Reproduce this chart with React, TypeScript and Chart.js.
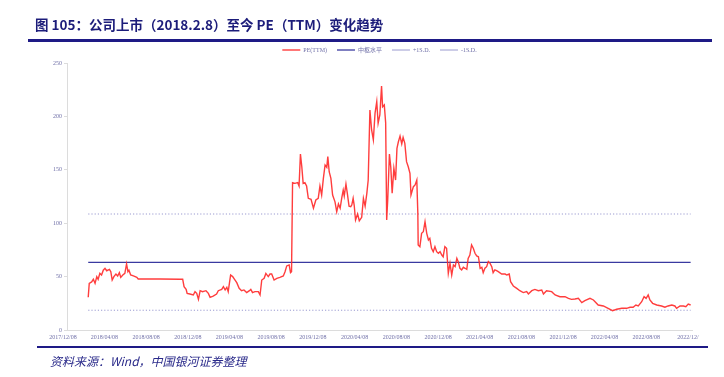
import React, { useEffect, useRef } from "react";
import { Chart, registerables } from "chart.js";

Chart.register(...registerables);

// x positions: days since 2017/12/08
const dayOffsets = [
  62, 65, 72, 77, 82, 87, 91, 96, 101, 106, 111, 116, 124, 128, 132, 137, 143, 148, 153, 157,
  163, 169, 174, 178, 181, 186, 194, 204, 208, 272, 330, 338, 342, 348, 351, 359, 369, 374, 379, 384,
  389, 396, 406, 413, 418, 427, 437, 442, 452, 457, 462, 467, 471, 478, 484, 491, 496, 503, 510, 517,
  525, 533, 537, 542, 549, 559, 564, 569, 576, 581, 588, 593, 598, 605, 613, 622, 632, 637, 642, 649,
  653, 656, 659, 666, 674, 678, 682, 686, 690, 695, 700, 705, 713, 720, 727, 734, 739, 744, 749, 754,
  759, 762, 766, 771, 776, 783, 788, 793, 798, 803, 807, 810, 815, 819, 824, 829, 832, 836, 839, 843,
  849, 854, 861, 866, 871, 876, 880, 885, 890, 895, 900, 905, 909, 914, 919, 922, 927, 931, 934, 937,
  942, 946, 950, 955, 960, 964, 968, 973, 978, 982, 987, 992, 997, 1002, 1005, 1012, 1017, 1022, 1025, 1026,
  1031, 1036, 1041, 1046, 1051, 1056, 1060, 1065, 1070, 1075, 1080, 1085, 1090, 1095, 1099, 1104, 1109, 1114, 1119, 1124,
  1129, 1134, 1139, 1143, 1148, 1153, 1158, 1163, 1168, 1172, 1177, 1182, 1187, 1192, 1197, 1202, 1207, 1212, 1216, 1221,
  1226, 1231, 1236, 1241, 1245, 1250, 1255, 1260, 1270, 1280, 1285, 1292, 1296, 1304, 1314, 1323, 1333, 1343, 1348, 1358,
  1367, 1377, 1387, 1392, 1401, 1416, 1426, 1440, 1455, 1465, 1474, 1484, 1494, 1504, 1513, 1528, 1538, 1552, 1567, 1581,
  1594, 1606, 1621, 1635, 1645, 1654, 1662, 1669, 1679, 1686, 1692, 1698, 1703, 1711, 1723, 1737, 1747, 1756, 1767, 1776,
  1781, 1791, 1801, 1808, 1815, 1822,
];

const peTTM = [
  30.6, 43.7, 45, 47.5, 43.7, 50, 47.5, 53, 51.5, 56, 57.8, 55.5, 56.8, 54.6, 46.8, 50, 52.4, 50.6, 53.7, 49.3,
  51.5, 53, 61.8, 54.6, 56, 51.5, 50.6, 49.3, 47.8, 47.8, 47.5, 47.5, 40.6, 38, 34.3, 33.7, 32.8, 35.9, 34.3, 28.7,
  36.8, 35.9, 36.8, 34.3, 30.6, 31.8, 33.7, 36.8, 38, 40.6, 37.5, 40, 35.9, 51.5, 50, 46.8, 44.3, 39, 36.8, 37.5,
  35, 36.8, 38, 35, 35.9, 35.9, 32.8, 46.8, 48.4, 53, 50, 52.4, 52.4, 46.8, 48.4, 49.3, 50.6, 54.6, 60, 60.9,
  53.7, 54.6, 138, 137.3, 138, 134.8, 164.8, 152.9, 137.3, 138, 134.8, 123.3, 122.3, 114, 121.7, 123.3, 134.8, 126.4, 142, 154.5,
  152.3, 162.3, 148.2, 142, 126.4, 120, 110.8, 118, 114, 124.2, 131, 125.5, 136.7, 128, 116, 115.5, 117, 123.3, 117, 103,
  108.6, 102.3, 105.5, 123.3, 116, 128, 140.4, 206, 187.3, 178, 203, 213.8, 193.5, 201.3, 228.5, 209, 210.7, 194, 103, 121.7,
  164.8, 152.3, 128, 151.4, 140.4, 170, 176, 181.6, 174.2, 180.4, 174.8, 157.6, 152.9, 146.7, 126.4, 134.2, 135.8, 140.4, 109.3, 79.6,
  78, 90.5, 92, 101.4, 90.5, 84.3, 85.8, 76.5, 73.3, 78, 73.3, 71.8, 73.3, 70.2, 68.6, 78, 76.5, 53, 62.4, 51.5,
  60.9, 59.3, 67.1, 64, 57.8, 56.2, 58.7, 57.8, 56.8, 67.1, 70.2, 79.6, 76.5, 71.8, 69.3, 68.6, 57.8, 58.7, 53.7, 57.8,
  59.3, 64, 62.4, 59.3, 53.7, 56.2, 55.5, 54.6, 52.4, 52.4, 51.5, 52.4, 45.2, 41.2, 39, 36.8, 35, 35.9, 33.7, 36.8,
  38, 36.8, 37.5, 33.7, 36.8, 35.9, 32.8, 31.2, 31.2, 29.6, 28.7, 29, 29.6, 25.6, 27.4, 29.6, 28.1, 23.4, 22.5, 20.3,
  18.1, 19.4, 20.3, 20.3, 21.3, 21.3, 23.4, 22.5, 26.5, 31.2, 29.6, 32.8, 28.1, 25, 23.4, 22.5, 21.3, 22.5, 23.4, 22.5,
  20.3, 22.5, 22.5, 21.8, 24.3, 23.4,
];

const centerLevel = 63.3;
const plusOneSD = 108.6;
const minusOneSD = 18.5;

const xTickDates = [
  "2017/12/08", "2018/04/08", "2018/08/08", "2018/12/08", "2019/04/08", "2019/08/08", "2019/12/08", "2020/04/08",
  "2020/08/08", "2020/12/08", "2021/04/08", "2021/08/08", "2021/12/08", "2022/04/08", "2022/08/08", "2022/12/08",
];
const xTickLabels = [
  "2017/12/08", "2018/04/08", "2018/08/08", "2018/12/08", "2019/04/08", "2019/08/08", "2019/12/08", "2020/04/08",
  "2020/08/08", "2020/12/08", "2021/04/08", "2021/08/08", "2021/12/08", "2022/04/08", "2022/08/08", "2022/12/",
];
const yTicks = [0, 50, 100, 150, 200, 250];

const seriesNames = ["PE(TTM)", "中枢水平", "+1S.D.", "-1S.D."];

const dayOf = (s: string) => {
  const [y, m, d] = s.split("/").map(Number);
  return Math.round((Date.UTC(y, m - 1, d) - Date.UTC(2017, 11, 8)) / 86400000);
};

const FONT = "'Liberation Serif', 'Noto Sans CJK SC', serif";

export default function App() {
  const ref = useRef<HTMLCanvasElement | null>(null);

  useEffect(() => {
    document.body.style.margin = "0";
    const canvas = ref.current;
    if (!canvas) return;
    const tickDays = xTickDates.map(dayOf);
    const xMin = tickDays[0];
    const xMax = tickDays[tickDays.length - 1];
    const first = dayOffsets[0];
    const last = dayOffsets[dayOffsets.length - 1];
    const hLine = (v: number) => [
      { x: first, y: v },
      { x: last, y: v },
    ];
    const chart = new Chart(canvas, {
      type: "line",
      data: {
        datasets: [
          {
            label: seriesNames[0],
            data: dayOffsets.map((d, i) => ({ x: d, y: peTTM[i] })),
            borderColor: "rgba(255,45,45,0.92)",
            backgroundColor: "rgba(255,45,45,0.92)",
            borderWidth: 1.4,
            pointRadius: 0,
            tension: 0,
          },
          {
            label: seriesNames[1],
            data: hLine(centerLevel),
            borderColor: "#3a3aa0",
            backgroundColor: "#3a3aa0",
            borderWidth: 1.3,
            pointRadius: 0,
          },
          {
            label: seriesNames[2],
            data: hLine(plusOneSD),
            borderColor: "#9a9ad0",
            backgroundColor: "#9a9ad0",
            borderWidth: 1,
            borderDash: [1.2, 2],
            pointRadius: 0,
          },
          {
            label: seriesNames[3],
            data: hLine(minusOneSD),
            borderColor: "#9a9ad0",
            backgroundColor: "#9a9ad0",
            borderWidth: 1,
            borderDash: [1.2, 2],
            pointRadius: 0,
          },
        ],
      },
      options: {
        animation: false,
        responsive: false,
        devicePixelRatio: 1,
        layout: { padding: { top: 37, left: 0, right: 32, bottom: 0 } },
        plugins: {
          tooltip: { enabled: false },
          legend: {
            display: true,
            position: "top",
            fullSize: false,
            labels: {
              usePointStyle: true,
              pointStyle: "line",
              pointStyleWidth: 18,
              padding: 10,
              color: "#7070a8",
              font: { family: FONT, size: 6 },
            },
          },
        },
        scales: {
          x: {
            type: "linear",
            min: xMin,
            max: xMax,
            afterFit: (s: any) => {
              s.height = 47;
            },
            afterBuildTicks: (s: any) => {
              s.ticks = tickDays.map((v) => ({ value: v }));
            },
            ticks: {
              autoSkip: false,
              maxRotation: 0,
              minRotation: 0,
              padding: 4,
              labelOffset: -4,
              color: "#7070a8",
              font: { family: FONT, size: 6 },
              callback: (v: any) => {
                const i = tickDays.indexOf(Number(v));
                return i >= 0 ? xTickLabels[i] : "";
              },
            },
            grid: { display: true, drawOnChartArea: false, drawTicks: false, color: "#dcdcdc" },
            border: { display: true, color: "#dcdcdc", width: 1 },
          },
          y: {
            min: 0,
            max: 250,
            afterFit: (s: any) => {
              s.width = 67;
            },
            afterBuildTicks: (s: any) => {
              s.ticks = yTicks.map((v) => ({ value: v }));
            },
            ticks: {
              padding: 2,
              color: "#7070a8",
              font: { family: FONT, size: 6 },
            },
            grid: { display: true, drawOnChartArea: false, drawTicks: true, tickLength: 3, color: "#dcdcdc" },
            border: { display: true, color: "#dcdcdc", width: 1 },
          },
        },
      },
    });
    return () => chart.destroy();
  }, []);

  return (
    <div style={{ position: "relative", width: 724, height: 377, background: "#fff", overflow: "hidden" }}>
      <canvas ref={ref} width={724} height={377} style={{ position: "absolute", left: 0, top: 0 }} />
      <div
        style={{
          position: "absolute",
          left: 35,
          top: 15,
          fontFamily: "'Noto Sans CJK SC', sans-serif",
          fontWeight: 700,
          fontSize: 13.5,
          color: "#1c1c7a",
          whiteSpace: "nowrap",
          lineHeight: "18px",
        }}
      >
        图 105：公司上市（2018.2.8）至今 PE（TTM）变化趋势
      </div>
      <div style={{ position: "absolute", left: 28, top: 39, width: 684, height: 3, background: "#1e1a86" }} />
      <div style={{ position: "absolute", left: 37, top: 346, width: 671, height: 2, background: "#1e1a86" }} />
      <div
        style={{
          position: "absolute",
          left: 50,
          top: 352,
          fontFamily: "'Noto Sans CJK SC', sans-serif",
          fontStyle: "italic",
          fontSize: 12,
          color: "#2a2a8a",
          whiteSpace: "nowrap",
          lineHeight: "18px",
        }}
      >
        资料来源：Wind，中国银河证券整理
      </div>
    </div>
  );
}
